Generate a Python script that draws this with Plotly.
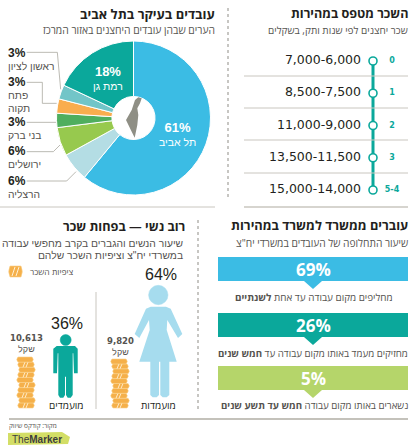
import plotly.graph_objects as go

# Pie data
cities = ['תל אביב', 'הרצליה', 'ירושלים', 'בני ברק', 'פתח תקוה', 'ראשון לציון', 'רמת גן']
city_shares = [61, 6, 6, 3, 3, 3, 18]
city_colors = ['#3bbce4', '#b4dde4', '#97c94e', '#4fae5e', '#f9ad4e', '#72c5c8', '#0ba89b']

# Salary by seniority
seniority = ['0', '1', '2', '3', '5-4']
salary_ranges = ['7,000-6,000', '8,500-7,500', '11,000-9,000', '13,500-11,500', '15,000-14,000']

# Turnover boxes
turnover_pct = ['69%', '26%', '5%']
turnover_colors = ['#3bbce4', '#0ba89b', '#b5d56a']

# Gender
women_pct = '64%'
men_pct = '36%'
women_wage = '9,820'
men_wage = '10,613'

FONT = 'Open Sans'
TIGHT = 'Liberation Sans'
DARK = '#231f20'
GREY = '#55534f'
TEAL = '#0ba89b'
RULE = '#c9c6bf'

shapes = []
annotations = []


def txt(x, y, s, size=10, color=GREY, anchor='right', bold=False, font=FONT, align=None):
    annotations.append(dict(
        x=x, y=y, xref='x', yref='y', text='<b>%s</b>' % s if bold else s,
        showarrow=False, xanchor=anchor, yanchor='middle', borderpad=0, borderwidth=0,
        align=align or anchor, font=dict(family=font, size=size, color=color),
    ))


def stack(x, y, rows, spacing, color=GREY, anchor='right'):
    # several lines in one text, rows are (text, size, color, bold, family)
    parts = []
    for s, size, col, bold, fam in rows:
        s = '<b>%s</b>' % s if bold else s
        parts.append('<span style="font-size:%.1fpx;color:%s;font-family:%s">%s</span>' % (size, col, fam, s))
    txt(x, y, '<br>'.join(parts), spacing / 1.3, color, anchor, font=TIGHT)


def line(x0, y0, x1, y1, color=RULE, width=1, dash=None):
    shapes.append(dict(type='line', xref='x', yref='y', x0=x0, y0=y0, x1=x1, y1=y1,
                       line=dict(color=color, width=width, dash=dash)))


def zoom_path(pts, color, lw=0):
    d = 'M' + ' L'.join('%.1f,%.1f' % p for p in pts) + ' Z'
    shapes.append(dict(type='path', xref='x', yref='y', path=d, fillcolor=color,
                       line=dict(color=color, width=lw)))


def z(points, x0=0, y0=210):
    # points were read in a 3x crop whose origin is x0, y0
    return [(x0 + px / 3, y0 + py / 3) for px, py in points]


def circle(cx, cy, r, color):
    shapes.append(dict(type='circle', xref='x', yref='y', x0=cx - r, x1=cx + r, y0=cy - r, y1=cy + r,
                       fillcolor=color, line=dict(color=color, width=0.5)))


def coin(cx, y, h, w, color='#f5b04a'):
    x0, x1 = cx - w / 2, cx + w / 2
    d = 'M%.1f,%.1f L%.1f,%.1f Q%.1f,%.1f %.1f,%.1f L%.1f,%.1f Q%.1f,%.1f %.1f,%.1f Z' % (
        x0, y, x1, y, x1 + 2.5, y + h / 2, x1, y + h, x0, y + h, x0 - 2.5, y + h / 2, x0, y)
    shapes.append(dict(type='path', xref='x', yref='y', path=d, fillcolor=color,
                       line=dict(color='#fad28c', width=0.6)))


def coins(cx, top, bottom, n):
    step = (bottom - top) / n
    offs = [0, 1, -1, 0, 1, -1, 0, 1, 0, -1]
    for i in range(n):
        y = bottom - (i + 1) * step
        coin(cx + offs[i % 10], y, step, 14)
        if i % 2 == 0:
            line(cx - 3 + offs[i % 10], y + step, cx - 1 + offs[i % 10], y, '#fff1d6', 0.9)
            line(cx + offs[i % 10], y + step, cx + 2 + offs[i % 10], y, '#fff1d6', 0.9)


# headings
txt(215, 14, 'עובדים בעיקר בתל אביב', 13, DARK, bold=True)
txt(215, 30, 'הערים שבהן עובדים היחצנים באזור המרכז', 10.3)
txt(408, 13, 'השכר מטפס במהירות', 12.6, DARK, bold=True)
txt(408, 30, 'שכר יחצנים לפי שנות ותק, בשקלים', 10)
txt(185, 226, 'רוב נשי — בפחות שכר', 12.7, DARK, bold=True)
stack(184, 249, [('שיעור הנשים והגברים בקרב מחפשי עבודה', 10.3, GREY, False, TIGHT),
                 ('במשרדי יח"צ וציפיות השכר שלהם', 10.3, GREY, False, TIGHT)], 12)
txt(408, 225, 'עוברים ממשרד למשרד במהירות', 12.8, DARK, bold=True)
txt(408, 243, 'שיעור התחלופה של העובדים במשרדי יח"צ', 10.2)

# page rules
line(228, 8, 228, 197, '#8f8d86', 1, 'dot')
line(198, 220, 198, 409, '#8f8d86', 1, 'dot')
line(0, 207, 215, 207)
line(244, 207, 408, 207)
line(96, 292, 96, 409)
line(9, 419, 408, 419, '#8a8578', 1.2)

# pie leaders and labels
for pts in [[(80, 157), (172, 157), (182, 268)],
            [(80, 247), (127, 247), (127, 310), (170, 310)],
            [(80, 367), (168, 367)],
            [(80, 455), (160, 455), (180, 435)],
            [(80, 543), (200, 543), (228, 515)]]:
    p = z(pts, 0, 0)
    for a, b in zip(p, p[1:]):
        line(a[0], a[1], b[0], b[1], '#aaa89f', 0.8)


def pct_label(y, share, names):
    rows = [('%d%%' % share, 12, DARK, True, TIGHT)] + [(n, 10.3, GREY, False, TIGHT) for n in names]
    stack(8, y, rows, 12.8, anchor='left')


pct_label(59, city_shares[5], [cities[5]])
pct_label(94, city_shares[4], cities[4].split())
pct_label(128, city_shares[3], [cities[3]])
pct_label(157, city_shares[2], [cities[2]])
pct_label(186.5, city_shares[1], [cities[1]])

stack(177, 134, [('%d%%' % city_shares[0], 13, 'white', True, TIGHT), (cities[0], 10.5, 'white', False, TIGHT)],
      13.6, anchor='center')
stack(108, 77.5, [('%d%%' % city_shares[6], 13, 'white', True, TIGHT), (cities[6], 10.5, 'white', False, TIGHT)],
      13.6, anchor='center')

# salary separators
for y in [76, 108, 140, 173, 207]:
    line(244, y, 408, y)

# turnover boxes
box_tops = [257, 313, 366]
for top, pct, color in zip(box_tops, turnover_pct, turnover_colors):
    shapes.append(dict(type='rect', xref='x', yref='y', x0=218, x1=408, y0=top, y1=top + 24,
                       fillcolor=color, line=dict(width=0)))
    zoom_path([(304, top + 24), (322, top + 24), (313, top + 32)], color)
    txt(313, top + 12, pct, 17, 'white', 'center', True)
txt(393, 297, 'מחליפים מקום עבודה עד אחת <b>לשנתיים</b>', 9.9)
txt(408, 353, 'מחזיקים מעמד באותו מקום עבודה עד <b>חמש שנים</b>', 9.7)
txt(408, 405, 'נשארים באותו מקום עבודה <b>חמש עד תשע שנים</b>', 9.7)

# woman
circle(158.3, 295, 9.7, '#a6dcee')
zoom_path(z([(452, 290), (498, 290), (512, 296), (547, 372), (534, 384), (502, 330), (500, 360), (530, 455),
             (508, 455), (508, 555), (500, 562), (488, 562), (481, 555), (481, 455), (477, 455), (477, 555),
             (470, 562), (458, 562), (451, 555), (451, 455), (418, 455), (449, 360), (447, 330), (418, 384),
             (404, 372), (438, 296)]), '#a6dcee')
# man
circle(65.7, 340, 5.5, TEAL)
zoom_path(z([(170, 408), (225, 408), (233, 416), (233, 490), (222, 490), (220, 430), (218, 430), (218, 555),
             (212, 563), (203, 563), (198, 555), (198, 500), (195, 500), (195, 555), (190, 563), (180, 563),
             (175, 555), (175, 430), (173, 430), (171, 490), (160, 490), (160, 416)]), TEAL)
coins(26, 357, 408, 10)
coins(120, 359, 408, 10)
coin(15.5, 266, 11, 11)
line(12, 276, 15, 267, '#fff1d6', 1)
line(16, 276, 19, 267, '#fff1d6', 1)

txt(161, 274, women_pct, 16, DARK, 'center', font='Liberation Sans')
txt(67, 323, men_pct, 16, DARK, 'center', font='Liberation Sans')
stack(120, 346, [(women_wage, 8.5, GREY, True, 'DejaVu Sans'), ('שקל', 9, GREY, False, TIGHT)], 10.8, anchor='center')
stack(26, 343, [(men_wage, 8.5, GREY, True, 'DejaVu Sans'), ('שקל', 9, GREY, False, TIGHT)], 10.8, anchor='center')
txt(158, 405, 'מועמדות', 10, DARK, 'center')
txt(66, 405, 'מועמדים', 10, DARK, 'center')
txt(74, 271, 'ציפיות השכר', 8.5, GREY)

# source and logo
txt(57, 425, 'מקור: קודקס שיווק', 6.5, GREY, 'right')
shapes.append(dict(type='path', xref='x', yref='y', path='M8,433 L62,432 L70,437 L68,444 L8,445 Z',
                   fillcolor='#d3de66', line=dict(width=0)))
txt(12, 439, 'The<b>Marker</b>', 10, '#3d3d3d', 'left', font='Liberation Sans')

# israel map on pie hole
zoom_path(z([(415, 292), (425, 295), (420, 310), (412, 325), (415, 345), (412, 375), (404, 413), (395, 395),
             (378, 360), (395, 330), (405, 300)], 0, 0), '#8f8f85')

fig = go.Figure()
fig.add_trace(go.Pie(
    labels=cities, values=city_shares, sort=False, direction='clockwise', rotation=0, hole=0.28,
    marker=dict(colors=city_colors, line=dict(color='white', width=1)), textinfo='none', showlegend=False,
    domain=dict(x=[56.5 / 420, 210.5 / 420], y=[1 - 195 / 447, 1 - 41 / 447]),
))
# salary ladder on its own category axis
fig.add_trace(go.Scatter(
    x=[373] * 5, y=seniority, mode='lines+markers', yaxis='y2', cliponaxis=False,
    line=dict(color=TEAL, width=3),
    marker=dict(size=8, color='white', line=dict(color=TEAL, width=1.6)), showlegend=False,
))
fig.add_trace(go.Scatter(
    x=[361] * 5, y=seniority, mode='text', yaxis='y2', text=salary_ranges, textposition='middle left',
    textfont=dict(family='DejaVu Sans', size=12.5, color=DARK), cliponaxis=False, showlegend=False,
))
fig.add_trace(go.Scatter(
    x=[392] * 5, y=seniority, mode='text', yaxis='y2', text=seniority, textposition='middle center',
    textfont=dict(family='DejaVu Sans', size=8, color=TEAL, weight='bold'), cliponaxis=False, showlegend=False,
))

fig.update_layout(
    width=420, height=447, margin=dict(l=0, r=0, t=0, b=0), paper_bgcolor='white', plot_bgcolor='white',
    xaxis=dict(range=[0, 420], visible=False),
    yaxis=dict(range=[447, 0], visible=False),
    yaxis2=dict(type='category', categoryorder='array', categoryarray=seniority, range=[4, 0], visible=False,
                domain=[1 - 190 / 447, 1 - 61 / 447]),
    shapes=shapes, annotations=annotations, hovermode=False,
)
fig.write_html('out.html', post_script="document.body.style.margin='0';", config={'displayModeBar': False})
